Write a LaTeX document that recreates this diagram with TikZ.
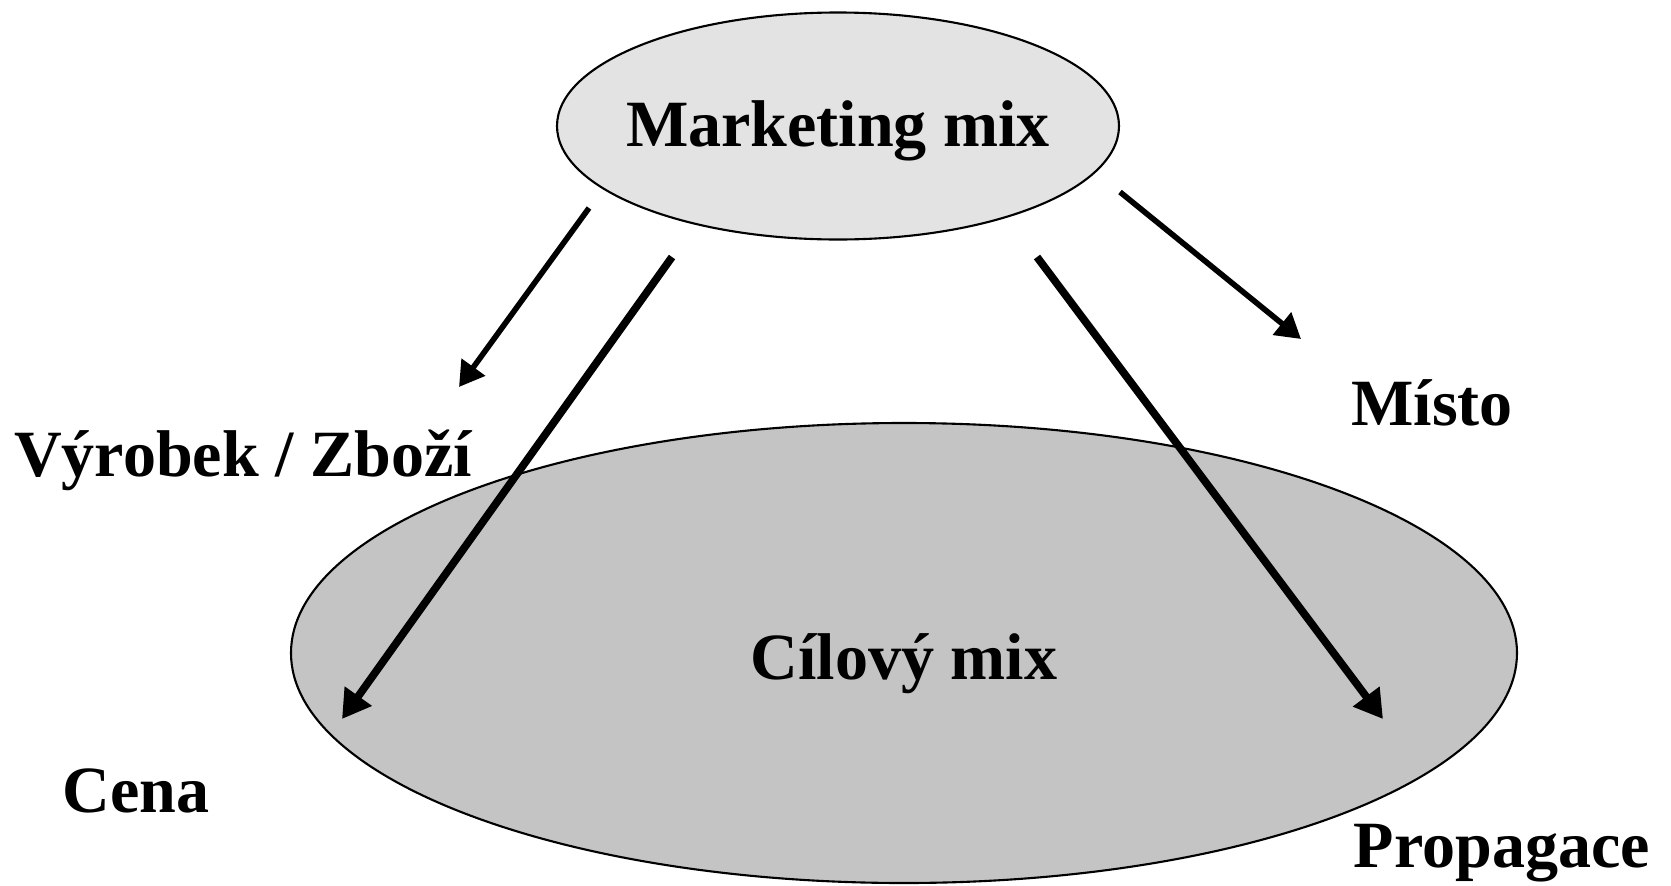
\documentclass[tikz,border=0pt]{standalone}
\usepackage{fontspec}
\setmainfont{Liberation Serif}
\usepackage{tikz}
\usetikzlibrary{positioning,arrows.meta,shapes.geometric}
\definecolor{mixSvetla}{HTML}{E3E3E3}
\definecolor{mixTmava}{HTML}{C4C4C4}

\begin{document}
\begin{tikzpicture}[
    popis/.style={font=\fontsize{18.8}{22}\selectfont\bfseries},
    tenka/.style={line width=1.6pt,-{Triangle[length=7pt,width=8pt]}},
    silna/.style={line width=2.2pt,-{Triangle[length=8pt,width=9pt]}}]
        \useasboundingbox (0,0) rectangle (16.71,8.85);
        % dve elipsy: cilovy mix dole, marketing mix nahore
        \node[ellipse,draw,line width=0.6pt,fill=mixTmava,minimum width=12.26cm,minimum height=4.6cm,inner sep=0pt] (cil) at (9.04,2.32) {};
        \node[popis] (cilText) at (9.04,2.21) {Cílový mix};
        \node[ellipse,draw,line width=0.6pt,fill=mixSvetla,minimum width=5.62cm,minimum height=2.27cm,inner sep=0pt] (mm) at (8.38,7.59) {};
        \node[popis] (mmText) at (8.38,7.54) {Marketing mix};
        % ctyri P
        \node[popis] (vyrobek) at (2.43,4.25) {Výrobek / Zboží};
        \node[popis] (misto) at (14.32,4.82) {Místo};
        \node[popis] (cena) at (1.36,0.94) {Cena};
        \node[popis] (propagace) at (15.02,0.32) {Propagace};
        % sipky
        \coordinate (z1) at (5.89,6.77); \coordinate (k1) at (4.59,4.98);
        \coordinate (z2) at (6.72,6.28); \coordinate (k2) at (3.42,1.66);
        \coordinate (z3) at (10.37,6.28); \coordinate (k3) at (13.83,1.66);
        \coordinate (z4) at (11.20,6.93); \coordinate (k4) at (13.01,5.46);
        \draw[tenka] (z1) -- (k1);
        \draw[silna] (z2) -- (k2);
        \draw[silna] (z3) -- (k3);
        \draw[tenka] (z4) -- (k4);
      \end{tikzpicture}
\end{document}
